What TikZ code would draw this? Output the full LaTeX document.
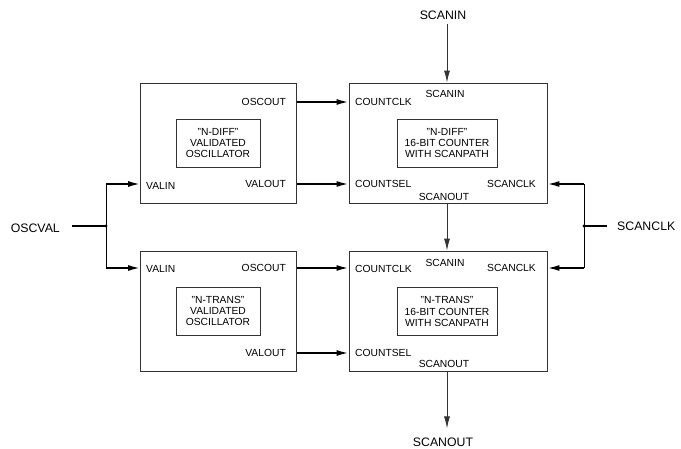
\documentclass[tikz,border=0pt]{standalone}
\usepackage{fontspec}
\setmainfont{Liberation Sans}
\usetikzlibrary{arrows.meta,positioning}

\begin{document}
\begin{tikzpicture}[x=1pt,y=-1pt,
  blk/.style={draw=black!80,line width=0.8pt,minimum height=120pt,inner sep=0pt},
  core/.style={draw=black!80,line width=0.8pt,minimum width=#1,minimum height=48pt,
    align=center,font=\fontsize{10.3}{11.4}\selectfont,inner sep=0pt},
  port/.style={font=\fontsize{10.3}{12}\selectfont,inner sep=0pt},
  pin/.style={font=\fontsize{12.3}{14}\selectfont,inner sep=0pt},
  sig/.style={line width=1.8pt,-{Latex[length=12pt,width=6pt]}},
  bus/.style={line width=0.9pt,black!80,-{Latex[length=12pt,width=6pt]}}]
 \useasboundingbox (0,0) rectangle (681,448);

 % oscillators
 \node[blk,minimum width=156pt] (oscD) at (218.5,143) {};
 \node[core=84pt] (oscDcore) at (218,143) {"N-DIFF"\\VALIDATED\\OSCILLATOR};
 \node[port,anchor=east] (oscDout) at (286,102) {OSCOUT};
 \node[port,anchor=west] (oscDin) at (146,186) {VALIN};
 \node[port,anchor=east] (oscDval) at (286,184) {VALOUT};

 \node[blk,minimum width=156pt] (oscT) at (218.5,311) {};
 \node[core=84pt] (oscTcore) at (218,311) {"N-TRANS"\\VALIDATED\\OSCILLATOR};
 \node[port,anchor=east] (oscTout) at (286,268) {OSCOUT};
 \node[port,anchor=west] (oscTin) at (146,269) {VALIN};
 \node[port,anchor=east] (oscTval) at (286,353) {VALOUT};

 % counters
 \node[blk,minimum width=198pt] (cntD) at (448,143) {};
 \node[core=100pt] (cntDcore) at (447,143) {"N-DIFF"\\16-BIT COUNTER\\WITH SCANPATH};
 \node[port,anchor=west] (cntDclk) at (355,102) {COUNTCLK};
 \node[port] (cntDsin) at (445,94) {SCANIN};
 \node[port,anchor=west] (cntDsel) at (355,184) {COUNTSEL};
 \node[port,anchor=east] (cntDsclk) at (536,184) {SCANCLK};
 \node[port] (cntDsout) at (444,197) {SCANOUT};

 \node[blk,minimum width=198pt] (cntT) at (448,311) {};
 \node[core=100pt] (cntTcore) at (447,311.5) {"N-TRANS"\\16-BIT COUNTER\\WITH SCANPATH};
 \node[port,anchor=west] (cntTclk) at (355,269) {COUNTCLK};
 \node[port] (cntTsin) at (445,263) {SCANIN};
 \node[port,anchor=west] (cntTsel) at (355,353) {COUNTSEL};
 \node[port,anchor=east] (cntTsclk) at (536,268) {SCANCLK};
 \node[port] (cntTsout) at (444,364) {SCANOUT};

 % pins
 \coordinate (oscvalend) at (72,226);
 \coordinate (jv) at (106,226);
 \node[pin,left=12pt of oscvalend,yshift=-2pt] (oscval) {OSCVAL};
 \coordinate (scanclkend) at (607,226);
 \coordinate (jc) at (584,226);
 \node[pin,right=10pt of scanclkend] (scanclk) {SCANCLK};
 \node[pin,inner sep=4pt] (scanin) at (443,15) {SCANIN};
 \node[pin] (scanout) at (443,442) {SCANOUT};

 % osc -> counter
 \draw[sig] (oscD.east |- oscDout) -- (cntD.west |- oscDout);
 \draw[sig] (oscD.east |- oscDval) -- (cntD.west |- oscDval);
 \draw[sig] (oscT.east |- oscTout) -- (cntT.west |- oscTout);
 \draw[sig] (oscT.east |- oscTval) -- (cntT.west |- oscTval);

 % OSCVAL fan-out
 \draw[line width=1.8pt] (oscvalend) -- (jv);
 \draw[line width=0.9pt] (jv |- oscDval) -- (jv |- oscTout);
 \draw[sig] (jv |- oscDval) -- (oscD.west |- oscDval);
 \draw[sig] (jv |- oscTout) -- (oscT.west |- oscTout);
 \fill (jv) circle (1.6pt);

 % SCANCLK fan-out
 \draw[line width=1.8pt] (scanclkend) -- (jc);
 \draw[line width=0.9pt] (jc |- cntDsclk) -- (jc |- cntTsclk);
 \draw[sig] (jc |- cntDsclk) -- (cntD.east |- cntDsclk);
 \draw[sig] (jc |- cntTsclk) -- (cntT.east |- cntTsclk);
 \fill (jc) circle (1.6pt);

 % scan chain
 \draw[bus] (scanin.south -| cntDcore) -- (cntD.north -| cntDcore);
 \draw[bus] (cntD.south -| cntDcore) -- (cntT.north -| cntDcore);
 \draw[bus] (cntT.south -| cntTcore) -- ([yshift=9pt]scanout.north -| cntTcore);
\end{tikzpicture}
\end{document}
